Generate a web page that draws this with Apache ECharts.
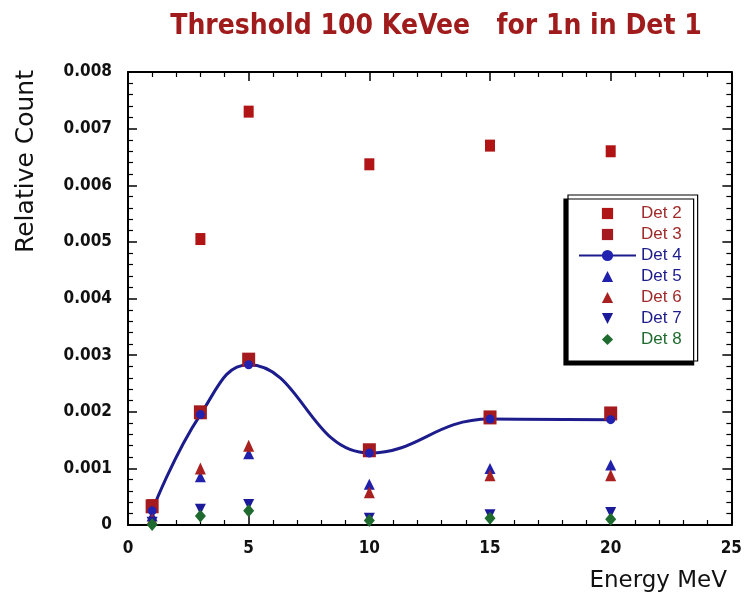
<!DOCTYPE html>
<html>
<head>
<meta charset="utf-8">
<script src="https://cdn.jsdelivr.net/npm/echarts@6/dist/echarts.min.js"></script>
<style>
html,body{margin:0;padding:0;background:#fff;}
#chart{width:745px;height:597px;}
</style>
</head>
<body>
<div id="chart"></div>
<script>
// ---- data ----
var energies = [1, 3, 5, 10, 15, 20];
var det2 = [0.00035, 0.00505, 0.0073, 0.00637, 0.0067, 0.0066];
var det3 = [0.00033, 0.00199, 0.00292, 0.00132, 0.0019, 0.00197];
var det4 = [0.00025, 0.00195, 0.00283, 0.00127, 0.00187, 0.00186];
var det5 = [0.00016, 0.00085, 0.00126, 0.00072, 0.001, 0.00106];
var det6 = [0.0001, 0.001, 0.0014, 0.00058, 0.00088, 0.00088];
var det7 = [0.00005, 0.00028, 0.00036, 0.00012, 0.00018, 0.00022];
var det8 = [0.00001, 0.00016, 0.00025, 0.00008, 0.00012, 0.0001];
var seriesNames = ['Det 2', 'Det 3', 'Det 4', 'Det 5', 'Det 6', 'Det 7', 'Det 8'];
var xTicks = [0, 5, 10, 15, 20, 25];
var yTicks = [0, 0.001, 0.002, 0.003, 0.004, 0.005, 0.006, 0.007, 0.008];

function pairs(ys) { return energies.map(function (x, i) { return [x, ys[i]]; }); }

var LBLFONT = "'DejaVu Sans Condensed', 'Liberation Sans Narrow', 'Liberation Sans', sans-serif";

var chart = echarts.init(document.getElementById('chart'), null, {renderer: 'canvas'});

function pt(name, data, symbol, size, color, rotate) {
  return {
    name: name, type: 'line', data: pairs(data),
    symbol: symbol, symbolSize: size, symbolRotate: rotate || 0,
    showSymbol: true, showAllSymbol: true,
    lineStyle: {width: 0},
    itemStyle: {color: color, borderWidth: 0},
    emphasis: {disabled: true},
    animation: false
  };
}

var axisCommon = {
  type: 'value',
  splitLine: {show: false},
  axisLine: {show: true, onZero: false, lineStyle: {color: '#000', width: 2}},
  axisTick: {show: true, inside: true, length: 9, lineStyle: {color: '#000', width: 1.5}},
  minorTick: {show: true, splitNumber: 5, length: 5, lineStyle: {color: '#000', width: 1.2}},
  minorSplitLine: {show: false}
};

var option = {
  backgroundColor: '#fff',
  animation: false,
  title: {
    text: 'Threshold 100 KeVee   for 1n in Det 1',
    left: 431, top: 8, textAlign: 'center',
    textStyle: {color: '#a01c1c', fontWeight: 'bold', fontSize: 28,
      fontFamily: "'DejaVu Sans Condensed', 'Liberation Sans', sans-serif"}
  },
  grid: {left: 128, right: 12, top: 72, bottom: 72, containLabel: false},
  xAxis: [
    Object.assign({}, axisCommon, {
      position: 'bottom', min: 0, max: 25, interval: 5,
      axisLabel: {show: true, margin: 15, color: '#111', fontSize: 17, fontWeight: 'bold', fontFamily: LBLFONT,
        formatter: function (v) { return xTicks.indexOf(v) >= 0 ? String(v) : ''; }}
    }),
    Object.assign({}, axisCommon, {
      position: 'top', min: 0, max: 25, interval: 5, axisLabel: {show: false}
    })
  ],
  yAxis: [
    Object.assign({}, axisCommon, {
      position: 'left', min: 0, max: 0.008, interval: 0.001,
      axisLabel: {show: true, margin: 16, color: '#111', fontSize: 17, fontWeight: 'bold', fontFamily: LBLFONT,
        formatter: function (v) {
          var best = yTicks.reduce(function (a, b) { return Math.abs(b - v) < Math.abs(a - v) ? b : a; });
          return best === 0 ? '0' : best.toFixed(3);
        }}
    }),
    Object.assign({}, axisCommon, {
      position: 'right', min: 0, max: 0.008, interval: 0.001, axisLabel: {show: false}
    })
  ],
  legend: {
    orient: 'vertical',
    left: 568, top: 195,
    padding: [10, 16, 13, 10],
    itemWidth: 57, itemHeight: 14, itemGap: 4,
    backgroundColor: '#fff',
    borderColor: '#000', borderWidth: 1.2,
    shadowColor: '#000', shadowBlur: 0, shadowOffsetX: -4, shadowOffsetY: 4,
    textStyle: {fontSize: 17, fontFamily: "'Liberation Sans', sans-serif"},
    data: [
      {name: 'Det 2', textStyle: {color: '#a02a2a'}},
      {name: 'Det 3', textStyle: {color: '#a02a2a'}},
      {name: 'Det 4', textStyle: {color: '#1c1c8c'}},
      {name: 'Det 5', textStyle: {color: '#1c1c8c'}},
      {name: 'Det 6', textStyle: {color: '#a02a2a'}},
      {name: 'Det 7', textStyle: {color: '#1c1c8c'}},
      {name: 'Det 8', textStyle: {color: '#1f6a2e'}}
    ]
  },
  graphic: [
    {type: 'text', left: 14, top: 70, rotation: Math.PI / 2,
      style: {text: 'Relative Count', fill: '#111', font: "25px 'DejaVu Sans', sans-serif"}},
    {type: 'text', right: 18, top: 570,
      style: {text: 'Energy MeV', fill: '#111', font: "23px 'DejaVu Sans', sans-serif"}}
  ],
  series: [
    pt('Det 2', det2, 'rect', [10, 12], '#b01414'),
    pt('Det 3', det3, 'rect', [13, 14], '#a51a1e'),
    {
      name: 'Det 4', type: 'line', data: pairs(det4),
      smooth: 0.45,
      symbol: 'circle', symbolSize: 9, showSymbol: true,
      lineStyle: {width: 3, color: '#1c1c8c'},
      itemStyle: {color: '#2222b0', borderWidth: 0},
      emphasis: {disabled: true}
    },
    pt('Det 5', det5, 'triangle', [11, 11], '#2020aa'),
    pt('Det 6', det6, 'triangle', [11, 12], '#a82020'),
    pt('Det 7', det7, 'triangle', [11, 11], '#1a1a9a', 180),
    pt('Det 8', det8, 'diamond', [11, 13], '#1f6a2e')
  ]
};
chart.setOption(option);
</script>
</body>
</html>
